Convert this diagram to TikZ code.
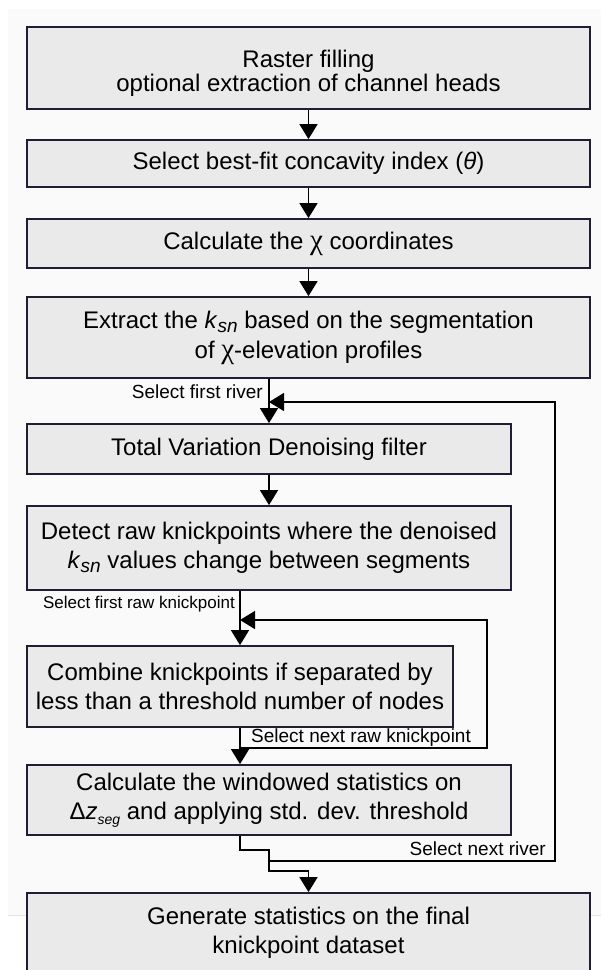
\documentclass[tikz,border=0pt]{standalone}
\usepackage{fontspec}
\setmainfont{Liberation Sans}
\newfontfamily\chifont{Liberation Serif}
\usetikzlibrary{arrows.meta}
\definecolor{boxfill}{HTML}{EAEAEA}
\definecolor{boxline}{HTML}{221C35}
\definecolor{panelfill}{HTML}{FAFAFA}
\definecolor{panelline}{HTML}{E2E2E2}
\newcommand{\chisym}{{\chifont\fontsize{29}{29}\selectfont χ}}
\newcommand{\ksn}{\textit{k}\raisebox{-4pt}{\fontsize{19}{19}\selectfont\textit{sn}}}
\newcommand{\dzseg}{Δ\textit{z}\raisebox{-5pt}{\fontsize{14}{14}\selectfont\textit{seg}}}
\begin{document}
\begin{tikzpicture}[x=1pt,y=-1pt,
  box/.style={draw=boxline, line width=1.8pt, fill=boxfill, align=center, inner sep=0pt, font=\fontsize{24}{29}\selectfont},
  boxtext/.style={align=center, inner sep=0pt, font=\fontsize{24}{24}\selectfont},
  arr/.style={line width=1.5pt, -{Triangle[width=18pt,length=15pt]}},
  lab/.style={font=\fontsize{19}{21}\selectfont, inner sep=0pt}]
\useasboundingbox (0,0) rectangle (601,970);
\clip (0,0) rectangle (601,970);
\fill[panelfill] (8,9) rectangle (601,915);
\draw[panelline, line width=1pt] (8,915) -- (601,915);

\node[box, minimum width=563, minimum height=82] (b1) at (308.5,68) {};
\node[boxtext] (t1) at (308.5,73) {Raster filling\\optional extraction of channel heads};
\node[box, minimum width=563, minimum height=47] (b2) at (308.5,163.5) {Select best-fit concavity index (\textit{θ})};
\node[box, minimum width=563, minimum height=49] (b3) at (308.5,243.5) {Calculate the \chisym{} coordinates};
\node[box, minimum width=563, minimum height=81] (b4) at (308.5,337.5) {Extract the \ksn{} based on the segmentation\\[1pt]of \chisym-elevation profiles};
\node[box, minimum width=484, minimum height=50] (b5) at (269,449) {Total Variation Denoising filter};
\node[box, minimum width=484, minimum height=84] (b6) at (269,548) {Detect raw knickpoints where the denoised\\\ksn{} values change between segments};
\node[box, minimum width=426, minimum height=81] (b7) at (240,686.5) {Combine knickpoints if separated by\\less than a threshold number of nodes};
\node[box, minimum width=484, minimum height=70] (b8) at (269,800) {Calculate the windowed statistics on\\\dzseg{} and applying std. dev. threshold};
\node[box, minimum width=563, minimum height=80] (b9) at (308.5,933) {Generate statistics on the final\\knickpoint dataset};

\draw[arr] (b1.south) -- (b2.north);
\draw[arr] (b2.south) -- (b3.north);
\draw[arr] (b3.south) -- (b4.north);
\draw[arr] (b5.north |- b4.south) -- (b5.north);
\draw[arr] (b5.south) -- (b6.north);
\draw[arr] (b7.north |- b6.south) -- (b7.north);
\draw[arr] (b7.south) -- (b7.south |- b8.north);

\coordinate (s0) at (b7.south |- b8.south);
\coordinate (s1) at (240,850);
\coordinate (s2) at (269,850);
\coordinate (rj) at (269,861);
\coordinate (s3) at (269,871);
\coordinate (s4) at (308.5,871);
\draw[arr] (s0) -- (s1) -- (s2) -- (s3) -- (s4) -- (b9.north);

\coordinate (r1) at (555,861);
\coordinate (r2) at (555,402);
\coordinate (rin) at (269,402);
\draw[arr] (rj) -- (r1) -- (r2) -- (rin);

\coordinate (k0) at (240,748);
\coordinate (k1) at (487,748);
\coordinate (k2) at (487,620);
\coordinate (kin) at (240,620);
\draw[arr] (k0) -- (k1) -- (k2) -- (kin);

\node[lab, anchor=east] (l1) at (263,392) {Select first river};
\node[lab, anchor=east, font=\fontsize{17}{19}\selectfont] (l2) at (235,604) {Select first raw knickpoint};
\node[lab, anchor=west] (l3) at (251,738) {Select next raw knickpoint};
\node[lab, anchor=east] (l4) at (546,849) {Select next river};
\end{tikzpicture}
\end{document}
